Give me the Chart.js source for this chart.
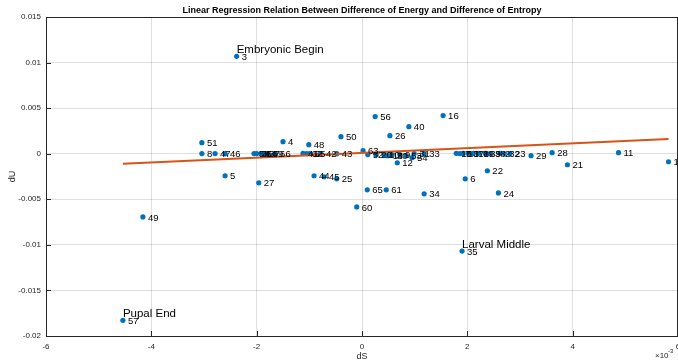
<!DOCTYPE html>
<html lang="en">
<head>
    <meta charset="UTF-8">
    <title>Linear Regression dU vs dS</title>
    <script src="https://cdn.jsdelivr.net/npm/chart.js"></script>
    <style>
        body { margin: 0; background: white; }
        #wrap { width: 678px; height: 362px; }
    </style>
</head>
<body>
    <div id="wrap"><canvas id="regChart" width="678" height="362"></canvas></div>

    <script>
        // sample numbers (labels next to each dot)
        const pointIds = [
            1, 2, 3, 4, 5, 6, 7, 8, 9, 10, 11, 12, 13, 14, 15, 16, 17, 18, 19, 20, 21, 22,
            23, 24, 25, 26, 27, 28, 29, 30, 31, 32, 33, 34, 35, 36, 37, 38, 39, 40, 41, 42, 43, 44,
            45, 46, 47, 48, 49, 50, 51, 52, 53, 54, 55, 56, 57, 58, 59, 60, 61, 62, 63, 64, 65, 66
        ];

        // difference of entropy (x)
        const dS = [
            0.00582, 0.00262, -0.00238, -0.00150, -0.00260, 0.00196, 0.00186, -0.00304, 0.00072, 0.00042,
            0.00487, 0.00067, 0.00192, 0.00049, 0.00179, 0.00154, 0.00202, 0.00211, 0.00221, 0.00027,
            0.00390, 0.00238, 0.00281, 0.00259, -0.00048, 0.00053, -0.00196, 0.00361, 0.00321, 0.00057,
            0.00099, 0.00270, 0.00118, 0.00118, 0.00190, -0.00200, -0.00186, 0.00243, 0.00234, 0.00089,
            -0.00112, -0.00078, -0.00048, -0.00091, -0.00072, -0.00260, -0.00279, -0.00101, -0.00416, -0.00040,
            -0.00304, 0.00011, 0.00084, 0.00095, -0.00099, 0.00025, -0.00454, -0.00205, -0.00179, -0.00010,
            0.00046, -0.00105, 0.00002, -0.00192, 0.00010, -0.00165
        ];

        // difference of energy (y)
        const dU = [
            -0.00088, 0.00004, 0.01068, 0.00132, -0.00242, -0.00275, 0.00002, 0.00001, -0.00011, -0.00012,
            0.00011, -0.00099, 0.00003, -0.00022, 0.00004, 0.00418, 0.00002, 0.00003, 0.00004, -0.00010,
            -0.00121, -0.00187, 0.00001, -0.00430, -0.00275, 0.00198, -0.00319, 0.00011, -0.00022, -0.00013,
            0.00001, 0.00002, 0.00000, -0.00440, -0.01068, 0.00001, 0.00002, 0.00001, 0.00003, 0.00297,
            0.00003, 0.00001, 0.00000, -0.00242, -0.00253, 0.00000, 0.00001, 0.00099, -0.00694, 0.00187,
            0.00121, -0.00009, -0.00022, -0.00044, 0.00002, 0.00407, -0.01828, 0.00002, 0.00001, -0.00584,
            -0.00396, 0.00002, 0.00033, 0.00001, -0.00396, 0.00000
        ];

        // named stages
        const annotIds = [3, 35, 57];
        const annotTexts = ['Embryonic Begin', 'Larval Middle', 'Pupal End'];

        // fitted line end points
        const fitX = [-0.00454, 0.00582];
        const fitY = [-0.00110, 0.00162];

        // axis ticks
        const xTicks = [-0.006, -0.004, -0.002, 0, 0.002, 0.004, 0.006];
        const yTicks = [-0.02, -0.015, -0.01, -0.005, 0, 0.005, 0.01, 0.015];

        const TITLE = 'Linear Regression Relation Between Difference of Energy and Difference of Entropy';
        const FONT = '"Liberation Sans", Arial, Helvetica, sans-serif';
        const AXIS_COL = '#262626';

        // labels, inward ticks, box, title and the x10^-3 multiplier
        const extras = {
            id: 'extras',
            afterDatasetsDraw(chart) {
                const { ctx, scales: { x, y } } = chart;
                ctx.save();
                ctx.fillStyle = '#000';
                ctx.font = '9.5px ' + FONT;
                ctx.textBaseline = 'middle';
                pointIds.forEach((id, i) => {
                    ctx.fillText(String(id), x.getPixelForValue(dS[i]) + 5, y.getPixelForValue(dU[i]) + 1);
                });
                ctx.font = '11.5px ' + FONT;
                ctx.textBaseline = 'alphabetic';
                annotIds.forEach((id, k) => {
                    const i = pointIds.indexOf(id);
                    ctx.fillText(annotTexts[k], x.getPixelForValue(dS[i]), y.getPixelForValue(dU[i]) - 3.5);
                });
                ctx.restore();
            },
            afterDraw(chart) {
                const { ctx, chartArea: a, scales: { x, y } } = chart;
                ctx.save();
                ctx.strokeStyle = AXIS_COL;
                ctx.lineWidth = 1;
                ctx.beginPath();
                xTicks.forEach(v => {
                    const px = Math.round(x.getPixelForValue(v)) + 0.5;
                    ctx.moveTo(px, a.bottom);
                    ctx.lineTo(px, a.bottom - 5);
                });
                yTicks.forEach(v => {
                    const py = Math.round(y.getPixelForValue(v)) + 0.5;
                    ctx.moveTo(a.left, py);
                    ctx.lineTo(a.left + 5, py);
                });
                // top and right of the box
                ctx.moveTo(a.left, Math.round(a.top) + 0.5);
                ctx.lineTo(a.right, Math.round(a.top) + 0.5);
                ctx.moveTo(Math.round(a.right) - 0.5, a.top);
                ctx.lineTo(Math.round(a.right) - 0.5, a.bottom);
                ctx.stroke();

                // title centred over the axes
                ctx.fillStyle = '#000';
                ctx.font = 'bold 9px ' + FONT;
                ctx.textAlign = 'center';
                ctx.textBaseline = 'middle';
                ctx.fillText(TITLE, (a.left + a.right) / 2, 11);

                ctx.fillStyle = AXIS_COL;
                ctx.textAlign = 'left';
                ctx.textBaseline = 'alphabetic';
                ctx.font = '8px ' + FONT;
                ctx.fillText('\u00d710', 655, 358);
                ctx.font = '6px ' + FONT;
                ctx.fillText('-3', 668, 353);
                ctx.restore();
            }
        };

        new Chart(document.getElementById('regChart'), {
            type: 'scatter',
            data: {
                datasets: [
                    {
                        type: 'line',
                        label: 'fit',
                        data: fitX.map((v, i) => ({ x: v, y: fitY[i] })),
                        borderColor: '#D95319',
                        borderWidth: 2,
                        pointRadius: 0,
                        fill: false,
                        order: 0
                    },
                    {
                        label: 'samples',
                        data: dS.map((v, i) => ({ x: v, y: dU[i] })),
                        backgroundColor: '#0072BD',
                        borderWidth: 0,
                        pointRadius: 2.6,
                        order: 1
                    }
                ]
            },
            options: {
                responsive: false,
                animation: false,
                layout: { autoPadding: false, padding: { left: 0, right: 0, top: 17, bottom: 0 } },
                plugins: {
                    legend: { display: false },
                    tooltip: { enabled: false },
                    title: { display: false }
                },
                scales: {
                    x: {
                        type: 'linear',
                        min: -0.006,
                        max: 0.006,
                        afterBuildTicks: s => { s.ticks = xTicks.map(v => ({ value: v })); },
                        afterFit: s => { s.height = 26; s.paddingLeft = 0; s.paddingRight = 0; },
                        ticks: {
                            color: AXIS_COL,
                            font: { family: FONT, size: 8 },
                            padding: 6,
                            maxRotation: 0,
                            callback: v => String(Math.round(v * 1000))
                        },
                        grid: { color: 'rgba(38,38,38,0.15)', drawTicks: false },
                        border: { color: AXIS_COL, width: 1 },
                        title: {
                            display: true,
                            text: 'dS',
                            color: AXIS_COL,
                            font: { family: FONT, size: 9 },
                            padding: { top: 0, bottom: 0 }
                        }
                    },
                    y: {
                        type: 'linear',
                        min: -0.02,
                        max: 0.015,
                        afterBuildTicks: s => { s.ticks = yTicks.map(v => ({ value: v })); },
                        afterFit: s => { s.width = 46; s.paddingTop = 0; s.paddingBottom = 0; },
                        ticks: {
                            color: AXIS_COL,
                            font: { family: FONT, size: 8 },
                            padding: 5,
                            callback: v => String(Number(v.toFixed(3)))
                        },
                        grid: { color: 'rgba(38,38,38,0.15)', drawTicks: false },
                        border: { color: AXIS_COL, width: 1 },
                        title: {
                            display: true,
                            text: 'dU',
                            color: AXIS_COL,
                            font: { family: FONT, size: 9 },
                            padding: { top: 7, bottom: 0 }
                        }
                    }
                }
            },
            plugins: [extras]
        });
    </script>
</body>
</html>
